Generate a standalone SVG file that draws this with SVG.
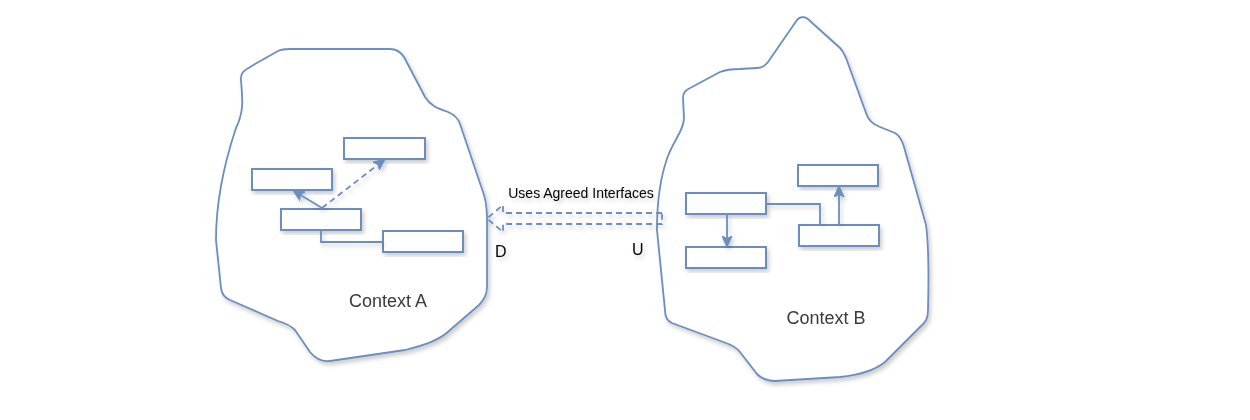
<svg xmlns="http://www.w3.org/2000/svg" width="1250" height="420" viewBox="0 0 1250 420">
<style>
.ctx{fill:#ffffff;stroke:#6c8ebf;stroke-width:1.8;stroke-linejoin:round}
.box{fill:#ffffff;stroke:#6c8ebf;stroke-width:2}
.ln{fill:none;stroke:#6c8ebf;stroke-width:1.8}
.dash{stroke-dasharray:6 4}
.lbl{font-family:"Liberation Sans",Arial,sans-serif;fill:#3a3a3a}
.big{font-size:18px;text-anchor:middle}
.du{font-family:"Liberation Sans",Arial,sans-serif;font-size:16px;fill:#000000}
</style>
<defs>
<filter id="sh" x="-10%" y="-10%" width="130%" height="130%">
<feDropShadow dx="2" dy="3" stdDeviation="2" flood-color="#000000" flood-opacity="0.2"/>
</filter>
<marker id="arr" viewBox="0 0 10 10" refX="9" refY="5" markerWidth="11" markerHeight="11" markerUnits="userSpaceOnUse" orient="auto">
<path d="M0,0.5 L10,5 L0,9.5 L2.5,5 Z" fill="#6c8ebf" stroke="#6c8ebf" stroke-width="1"/>
</marker>
</defs>
<rect width="1250" height="420" fill="#ffffff"/>

<g id="contextA" filter="url(#sh)">
<path class="ctx" d="M241,80 C240,72 245,70 255,64 L278,51 C282,49 285,49 290,49 L390,49 C396,49 400,51 404,57 L425,97 C430,105 436,108 448,112 C455,115 458,118 460,124 L484,195 C486,202 487,210 487,220 L487,287 C487,295 484,300 479,305 L450,330 C440,340 425,345 405,350 L330,361 C322,362 315,358 310,352 L295,330 C290,325 285,323 278,321 L230,300 C225,298 222,295 221,288 L216,240 C216,210 222,170 236,128 C245,110 242,95 241,80 Z"/>
<text class="lbl big" x="388" y="307">Context A</text>
</g>

<g id="contextB" filter="url(#sh)">
<path class="ctx" d="M683,98 C683,92 686,90 692,87 L720,72 C725,70 730,69 740,69 L757,68 C762,68 765,66 768,62 L797,20 C800,16 806,16 810,21 L840,48 C843,51 844,54 846,58 L866,113 C868,120 872,124 880,127 L895,133 C900,136 902,140 904,147 L926,225 C928,240 929,270 928,310 C928,318 926,322 920,327 L885,362 C875,370 860,375 840,377 L775,381 C767,381 762,379 757,374 L740,352 C736,347 732,345 726,343 L672,323 C667,321 665,317 665,310 L657,230 C657,195 662,172 668,156 C674,140 684,130 684,118 Z"/>
<text class="lbl big" x="826" y="324">Context B</text>
</g>

<g id="a1" filter="url(#sh)"><rect class="box" x="252" y="169" width="80" height="21"/></g>
<g id="a2" filter="url(#sh)"><rect class="box" x="344" y="138" width="81" height="21"/></g>
<g id="a3" filter="url(#sh)"><rect class="box" x="281" y="209" width="80" height="21"/></g>
<g id="a4" filter="url(#sh)"><rect class="box" x="383" y="231" width="80" height="21"/></g>

<g id="b1" filter="url(#sh)"><rect class="box" x="686" y="193" width="80" height="21"/></g>
<g id="b2" filter="url(#sh)"><rect class="box" x="686" y="247" width="80" height="21"/></g>
<g id="b3" filter="url(#sh)"><rect class="box" x="798" y="165" width="80" height="21"/></g>
<g id="b4" filter="url(#sh)"><rect class="box" x="799" y="225" width="80" height="21"/></g>

<g id="connectors" filter="url(#sh)">
<line class="ln" x1="322" y1="208" x2="294" y2="191" marker-end="url(#arr)"/>
<line class="ln dash" x1="322" y1="208" x2="384" y2="160" marker-end="url(#arr)"/>
<polyline class="ln" points="321,230 321,242 383,242"/>
<line class="ln" x1="727" y1="214" x2="727" y2="246" marker-end="url(#arr)"/>
<polyline class="ln" points="766,204 820,204 820,225"/>
<line class="ln" x1="839" y1="225" x2="839" y2="187" marker-end="url(#arr)"/>
<polygon class="ln dash" points="662,213 503,213 503,205 487,218.5 503,232 503,224 662,224"/>
</g>

<g id="labels" filter="url(#sh)">
<text x="581" y="198" font-family="Liberation Sans, Arial, sans-serif" font-size="14" text-anchor="middle" fill="#000000">Uses Agreed Interfaces</text>
<text class="du" x="495" y="257">D</text>
<text class="du" x="632" y="255">U</text>
</g>
</svg>
